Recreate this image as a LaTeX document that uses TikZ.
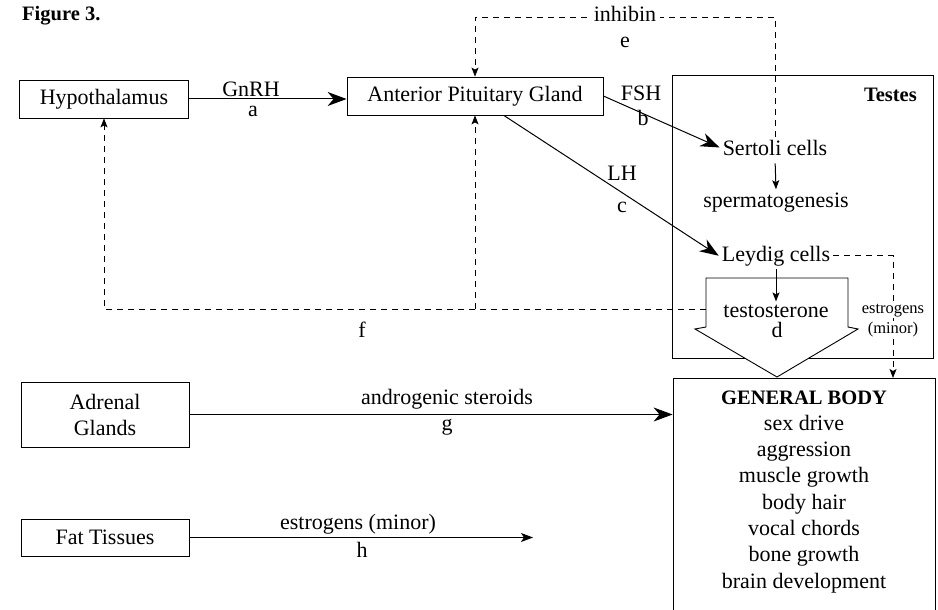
\documentclass[tikz,border=0pt]{standalone}
\usepackage{fontspec}
\setmainfont{Liberation Serif}
\usetikzlibrary{arrows.meta}
\begin{document}
\begin{tikzpicture}[x=1pt,y=-1pt,
  txt/.style={font=\fontsize{22}{26}\selectfont},
  ttl/.style={font=\fontsize{20.5}{24}\selectfont\bfseries},
  sml/.style={font=\fontsize{16.5}{20}\selectfont},
  box/.style={draw, line width=0.8pt, inner sep=0pt, align=center, txt},
  conn/.style={line width=1pt},
  bigtip/.style={-{Stealth[length=19pt,width=14pt,inset=6pt]}},
  midtip/.style={-{Stealth[length=12pt,width=9pt,inset=3pt]}},
  smalltip/.style={-{Stealth[length=9pt,width=7pt,inset=2pt]}},
  dsh/.style={line width=0.9pt, dash pattern=on 6pt off 5pt},
  lbl/.style={txt, anchor=base, inner sep=1pt},
  cell/.style={txt, anchor=base, inner sep=3pt}
]
\useasboundingbox (0,0) rectangle (938,610);
\clip (0,0) rectangle (938,610);

% boxes
\node[box, minimum width=169pt, minimum height=38pt] (hyp) at (104,99) {Hypothalamus};
\node[box, minimum width=256pt, minimum height=38pt] (apg) at (475,96) {Anterior Pituitary Gland};
\node[box, minimum width=261pt, minimum height=283pt] (testes) at (802.5,216.5) {};
\node[box, minimum width=262pt, minimum height=260pt, anchor=north] (gb) at (804,378) {};
\node[box, minimum width=168pt, minimum height=65pt] (adr) at (105,414.5) {Adrenal\\Glands};
\node[box, minimum width=168pt, minimum height=37pt] (fat) at (105,537.5) {Fat Tissues};

% block arrow (testosterone)
\draw[line width=0.9pt, fill=white] (706,278) -- (848,278) -- (848,327) -- (858,329)
  -- (777,377) -- (695,329) -- (706,327) -- cycle;

% titles
\node[ttl, anchor=base west, inner sep=0pt] (fig) at (22,21) {Figure 3.};
\node[ttl, anchor=base east, inner sep=0pt] (testeslbl) at (917,102) {Testes};

% cells
\node[cell] (sert) at (775,155) {Sertoli cells};
\node[cell] (sperm) at (776,207) {spermatogenesis};
\node[cell] (leyd) at (776,261) {Leydig cells};
\node[cell] (testo) at (776,317) {testosterone};
\node[lbl] (dlbl) at (777,337) {d};

% solid connectors
\draw[conn,bigtip] (hyp.east) -- (hyp.east -| apg.west);
\draw[conn,bigtip] (apg.east) -- (sert.west);
\draw[conn,bigtip] (apg.-34) -- (leyd.west);
\draw[conn,smalltip,shorten <=5pt] (sert.south) -- (sperm.north);
\draw[conn,smalltip] (leyd.south) -- (testo.north);

% inhibin feedback
\coordinate (itop) at (0,17);
\draw[dsh,smalltip] (sert.north) -- (sert.north |- itop) -- (apg.north |- itop) -- (apg.north);
\node[lbl, fill=white, inner sep=4pt] (inh) at (625,22) {inhibin};
\node[lbl] (elbl) at (625,48) {e};

% testosterone feedback
\coordinate (blkL) at (706,309);
\draw[dsh,smalltip] (blkL) -- (hyp.south |- blkL) -- (hyp.south);
\draw[dsh,smalltip] (apg.south |- blkL) -- (apg.south);
\node[lbl] (flbl) at (362,337) {f};

% estrogens from Leydig
\coordinate (estx) at (893,378);
\draw[dsh,smalltip] (leyd.east) -- (leyd.east -| estx) -- (estx);
\node[sml, anchor=base, fill=white, inner sep=1pt] (est1) at (893,313) {estrogens};
\node[sml, anchor=base, fill=white, inner sep=1pt] (est2) at (893,333) {(minor)};

% labels
\node[lbl] (gnrh) at (251,96) {GnRH};
\node[lbl] (albl) at (253,117) {a};
\node[lbl] (fsh) at (641,100) {FSH};
\node[lbl] (blbl) at (643,125) {b};
\node[lbl] (lh) at (622,180) {LH};
\node[lbl] (clbl) at (622,212) {c};

% adrenal and fat
\draw[conn,bigtip] (adr.east) -- (adr.east -| gb.west);
\node[lbl] (andr) at (447,404) {androgenic steroids};
\node[lbl] (glbl) at (447,430) {g};
\coordinate (fatend) at (533,536);
\draw[conn,midtip] (fat.east) -- (fat.east -| fatend);
\node[lbl] (estm) at (358,529) {estrogens (minor)};
\node[lbl] (hlbl) at (362,557) {h};

% general body
\node[ttl, anchor=base] (gbt) at (804,404) {GENERAL BODY};
\foreach \t [count=\i] in {sex drive, aggression, muscle growth, body hair, vocal chords, bone growth, brain development}
  \node[lbl] (gb\i) at (804,{404+26.3*\i}) {\t};
\end{tikzpicture}
\end{document}
